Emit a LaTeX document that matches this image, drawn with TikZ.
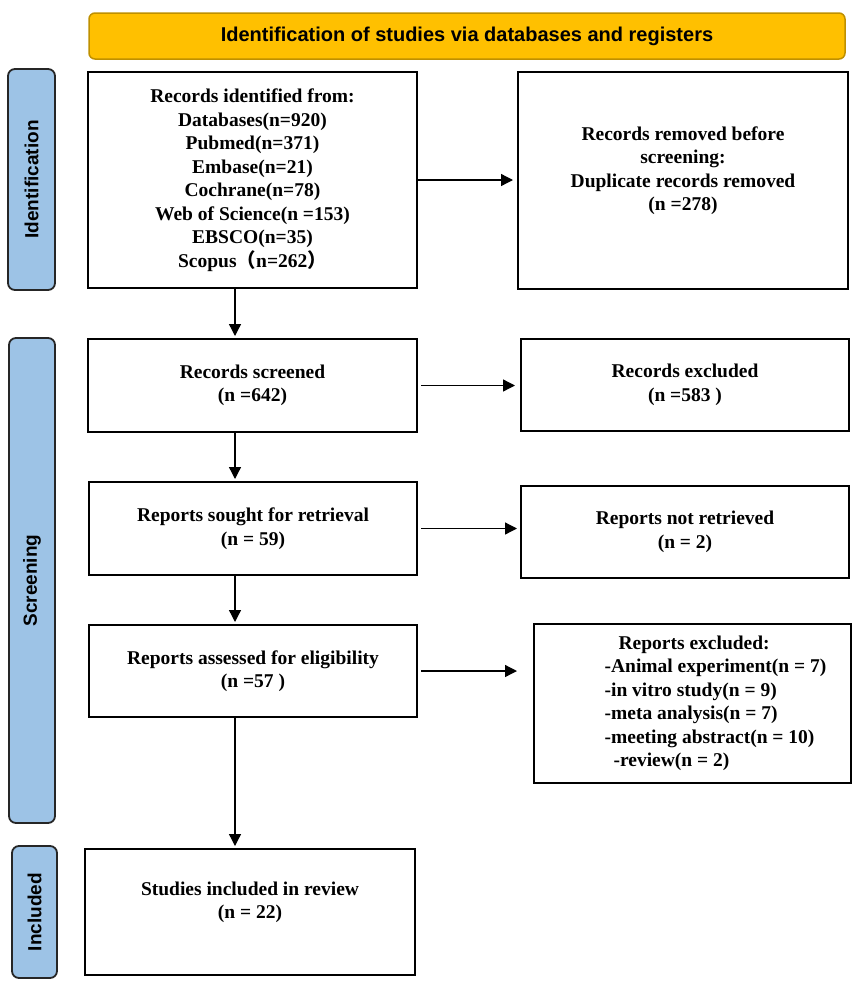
\documentclass[tikz,border=0pt]{standalone}
\usepackage{fontspec}
\setmainfont{Liberation Serif}
\newfontfamily\headfont{Liberation Sans}
\newfontfamily\cjk{Noto Sans CJK SC}
\usetikzlibrary{arrows.meta, positioning}

\definecolor{phaseblue}{HTML}{9DC3E6}
\definecolor{bannergold}{HTML}{FFC000}
\definecolor{bannerline}{HTML}{BF9000}

\begin{document}
\begin{tikzpicture}[x=1pt, y=-1pt,
    box/.style={draw=black, line width=2pt, fill=white, align=center, inner sep=0pt,
        font=\fontsize{19.5}{23.5}\selectfont\bfseries},
    phase/.style={draw=black!85, line width=1.8pt, fill=phaseblue, rounded corners=7pt,
        rotate=90, inner sep=0pt, font=\headfont\fontsize{19}{22}\selectfont\bfseries},
    arr/.style={line width=1.3pt, -{Triangle[length=12pt,width=12pt]}}]
    % Invisible bounding box for the page size
    \path[use as bounding box] (0,0) rectangle (857,991);

    % Banner
    \node[draw=bannerline, line width=1.5pt, fill=bannergold, rounded corners=6pt,
        minimum width=756pt, minimum height=46pt, inner sep=0pt,
        font=\headfont\fontsize{20}{24}\selectfont\bfseries] (banner) at (467,36)
        {Identification of studies via databases and registers};

    % Phase labels
    \node[phase, minimum width=221pt, minimum height=47pt] (idlab) at (31.5,179.5) {Identification};
    \node[phase, minimum width=485pt, minimum height=46pt] (scrlab) at (32,580.5) {Screening};
    \node[phase, minimum width=132pt, minimum height=45pt] (inclab) at (34.5,912) {Included};

    % Create nodes
    \node[box, minimum width=329pt, minimum height=216pt] (ident) at (252.5,180)
        {Records identified from:\\Databases(n=920)\\Pubmed(n=371)\\Embase(n=21)\\
         Cochrane(n=78)\\Web of Science(n =153)\\EBSCO(n=35)\\Scopus{\cjk （}n=262{\cjk ）}};
    \node[box, minimum width=330pt, minimum height=217pt] (removed) at (683,180.5)
        {Records removed before\\screening:\\Duplicate records removed\\(n =278)\\ \mbox{}};
    \node[box, minimum width=329pt, minimum height=93pt] (screened) at (252.5,385.5)
        {Records screened\\(n =642)};
    \node[box, minimum width=328pt, minimum height=92pt] (recexcl) at (685,385)
        {Records excluded\\(n =583 )};
    \node[box, minimum width=328pt, minimum height=93pt] (sought) at (253,528.5)
        {Reports sought for retrieval\\(n = 59)};
    \node[box, minimum width=328pt, minimum height=92pt] (notret) at (685,532)
        {Reports not retrieved\\(n = 2)};
    \node[box, minimum width=328pt, minimum height=92pt] (assessed) at (253,671)
        {Reports assessed for eligibility\\(n =57 )};
    \node[box, minimum width=317pt, minimum height=159pt, align=left] (repexcl) at (692.5,703.5)
        {\hspace*{60pt}Reports excluded:\\
         \hspace*{46pt}-Animal experiment(n = 7)\\
         \hspace*{46pt}-in vitro study(n = 9)\\
         \hspace*{46pt}-meta analysis(n = 7)\\
         \hspace*{46pt}-meeting abstract(n = 10)\\
         \hspace*{55pt}-review(n = 2)};
    \node[box, minimum width=330pt, minimum height=126pt] (studies) at (250,912)
        {Studies included in review\\(n = 22)\\ \mbox{}};

    % Connections
    \coordinate (trunk) at (235,0);
    \foreach \a/\b in {ident/screened, screened/sought, sought/assessed, assessed/studies} {
        \draw[arr, shorten >=2pt] (\a.south -| trunk) -- (\b.north -| trunk);
    }
    \draw[arr, shorten >=4pt] (ident.east) -- (ident.east -| removed.west);
    \foreach \a/\b/\s in {screened/recexcl/5, sought/notret/3, assessed/repexcl/16} {
        \draw[arr, shorten <=3pt, shorten >=\s pt] (\a.east) -- (\a.east -| \b.west);
    }
\end{tikzpicture}
\end{document}
